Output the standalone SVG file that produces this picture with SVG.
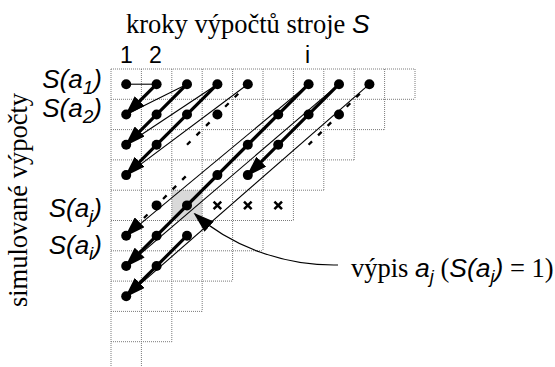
<svg xmlns="http://www.w3.org/2000/svg" width="555" height="367" viewBox="0 0 555 367">
<style>
.grid{stroke:#7a7a7a;stroke-width:1;stroke-dasharray:1 1;fill:none}
.bold{stroke:#000;stroke-width:3.2;fill:none;marker-end:url(#ah)}
.thin{stroke:#000;stroke-width:1.1;fill:none}
.dash{stroke:#000;stroke-width:2.3;stroke-dasharray:5 8.5;fill:none}
.dot{fill:#000}
.xm{stroke:#000;stroke-width:2.5;fill:none}
.serif{font-family:"Liberation Serif","Times New Roman",serif;font-size:26.5px;fill:#000}
.sit{font-family:"Liberation Sans",Arial,sans-serif;font-style:italic}
.lab{font-family:"Liberation Sans",Arial,sans-serif;font-style:italic;font-size:26px;fill:#000}
.num{font-family:"Liberation Sans",Arial,sans-serif;font-size:23px;fill:#000}
</style>
<defs>
<marker id="ah" markerUnits="userSpaceOnUse" viewBox="0 0 21 14" markerWidth="21" markerHeight="14" refX="19" refY="7" orient="auto">
<path d="M0,0 L21,7 L0,14 z" fill="#000"/>
</marker>
</defs>
<rect x="0" y="0" width="555" height="367" fill="#fff"/>
<g id="grid">
<rect x="171.8" y="190.2" width="30.4" height="30.3" fill="#d9d9d9"/>
<path class="grid" d="M111,69H415 M111,99.3H415 M111,129.6H384.6 M111,159.9H354.2 M111,190.2H323.8 M111,220.5H293.4 M111,250.8H263 M111,281.1H232.6 M111,311.4H202.2 M111,341.7H171.8 M111,69V367 M141.4,69V367 M171.8,69V341.7 M202.2,69V311.4 M232.6,69V281.1 M263,69V250.8 M293.4,69V220.5 M323.8,69V190.2 M354.2,69V159.9 M384.6,69V129.6 M415,69V99.3"/>
</g>
<g id="connectors">
<path class="thin" d="M126.2,84.2 L156.6,84.2"/>
<path class="thin" d="M126.2,114.5 L187,84.2"/>
<path class="thin" d="M126.2,144.8 L217.4,84.2"/>
<path class="thin" d="M126.2,175.1 L247.8,84.2"/>
<path class="thin" d="M126.2,235.7 L308.6,84.2"/>
<path class="thin" d="M126.2,266 L339,84.2"/>
<path class="thin" d="M126.2,296.3 L369.4,84.2"/>
<path class="bold" d="M156.6,84.2 L126.2,114.5"/>
<path class="bold" d="M187,84.2 L126.2,144.8"/>
<path class="bold" d="M217.4,84.2 L126.2,175.1"/>
<path class="bold" d="M308.6,84.2 L126.2,266"/>
<path class="bold" d="M339,84.2 L247.8,175.1"/>
<path class="bold" d="M187,235.7 L126.2,296.3"/>
<path class="dash" d="M247.8,84.2 L187,144.8"/>
<path class="dash" d="M187,175.1 L126.2,235.7" stroke-dashoffset="11.7" marker-end="url(#ah)"/>
<path class="dash" d="M369.4,84.2 L308.6,144.8"/>
<path class="thin" d="M338,265 C285,266 232,247 195,214" stroke-width="1.3" marker-end="url(#ah)"/>
</g>
<g id="nodes">
<g id="r0c0"><circle class="dot" cx="126.2" cy="84.2" r="5"/></g>
<g id="r0c1"><circle class="dot" cx="156.6" cy="84.2" r="5"/></g>
<g id="r0c2"><circle class="dot" cx="187" cy="84.2" r="5"/></g>
<g id="r0c3"><circle class="dot" cx="217.4" cy="84.2" r="5"/></g>
<g id="r0c4"><circle class="dot" cx="247.8" cy="84.2" r="5"/></g>
<g id="r0c6"><circle class="dot" cx="308.6" cy="84.2" r="5"/></g>
<g id="r0c7"><circle class="dot" cx="339" cy="84.2" r="5"/></g>
<g id="r0c8"><circle class="dot" cx="369.4" cy="84.2" r="5"/></g>
<g id="r1c0"><circle class="dot" cx="126.2" cy="114.5" r="5"/></g>
<g id="r1c1"><circle class="dot" cx="156.6" cy="114.5" r="5"/></g>
<g id="r1c2"><circle class="dot" cx="187" cy="114.5" r="5"/></g>
<g id="r1c3"><circle class="dot" cx="217.4" cy="114.5" r="5"/></g>
<g id="r1c5"><circle class="dot" cx="278.2" cy="114.5" r="5"/></g>
<g id="r1c6"><circle class="dot" cx="308.6" cy="114.5" r="5"/></g>
<g id="r1c7"><circle class="dot" cx="339" cy="114.5" r="5"/></g>
<g id="r2c0"><circle class="dot" cx="126.2" cy="144.8" r="5"/></g>
<g id="r2c1"><circle class="dot" cx="156.6" cy="144.8" r="5"/></g>
<g id="r2c4"><circle class="dot" cx="247.8" cy="144.8" r="5"/></g>
<g id="r2c5"><circle class="dot" cx="278.2" cy="144.8" r="5"/></g>
<g id="r3c0"><circle class="dot" cx="126.2" cy="175.1" r="5"/></g>
<g id="r3c3"><circle class="dot" cx="217.4" cy="175.1" r="5"/></g>
<g id="r3c4"><circle class="dot" cx="247.8" cy="175.1" r="5"/></g>
<g id="r4c1"><circle class="dot" cx="156.6" cy="205.4" r="5"/></g>
<g id="r4c2"><circle class="dot" cx="187" cy="205.4" r="5"/></g>
<g id="r4c3"><path class="xm" d="M213.6,201.6 L221.2,209.2 M213.6,209.2 L221.2,201.6"/></g>
<g id="r4c4"><path class="xm" d="M244,201.6 L251.6,209.2 M244,209.2 L251.6,201.6"/></g>
<g id="r4c5"><path class="xm" d="M274.4,201.6 L282,209.2 M274.4,209.2 L282,201.6"/></g>
<g id="r5c0"><circle class="dot" cx="126.2" cy="235.7" r="5"/></g>
<g id="r5c1"><circle class="dot" cx="156.6" cy="235.7" r="5"/></g>
<g id="r5c2"><circle class="dot" cx="187" cy="235.7" r="5"/></g>
<g id="r6c0"><circle class="dot" cx="126.2" cy="266" r="5"/></g>
<g id="r6c1"><circle class="dot" cx="156.6" cy="266" r="5"/></g>
<g id="r7c0"><circle class="dot" cx="126.2" cy="296.3" r="5"/></g>
</g>
<g id="labels">
<text class="serif" x="126" y="33">kroky výpočtů stroje <tspan class="sit">S</tspan></text>
<text class="num" x="126.5" y="63.3" text-anchor="middle">1</text>
<text class="num" x="155.5" y="63.3" text-anchor="middle">2</text>
<text class="num" x="307.5" y="63.3" text-anchor="middle">i</text>
<text class="lab" x="102" y="88" text-anchor="end">S(a<tspan font-size="19" dy="6">1</tspan><tspan dy="-6">)</tspan></text>
<text class="lab" x="102" y="117" text-anchor="end">S(a<tspan font-size="19" dy="6">2</tspan><tspan dy="-6">)</tspan></text>
<text class="lab" x="102" y="217" text-anchor="end">S(a<tspan font-size="19" dy="6">j</tspan><tspan dy="-6">)</tspan></text>
<text class="lab" x="102" y="254" text-anchor="end">S(a<tspan font-size="19" dy="6">i</tspan><tspan dy="-6">)</tspan></text>
<text class="serif" text-anchor="middle" transform="translate(27,200) rotate(-90)">simulované výpočty</text>
<text class="serif" x="351" y="277">výpis <tspan class="sit">a</tspan><tspan class="sit" font-size="18" dy="6">j</tspan><tspan dy="-6"> (</tspan><tspan class="sit">S(a</tspan><tspan class="sit" font-size="18" dy="6">j</tspan><tspan class="sit" dy="-6">)</tspan> = 1)</text>
</g>
</svg>
